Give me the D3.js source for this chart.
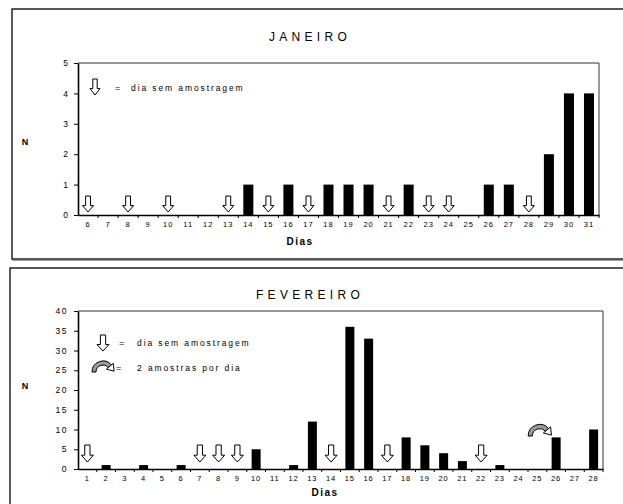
<!DOCTYPE html>
<html>
<head>
<meta charset="utf-8">
<script src="https://cdn.jsdelivr.net/npm/d3@7"></script>
<style>
  html, body { margin: 0; padding: 0; background: #fff; }
  svg { display: block; }
  text { font-family: "Liberation Sans", Arial, sans-serif; fill: #000; }
</style>
</head>
<body>
<svg id="chart" width="623" height="504"></svg>
<script>
// ---------- DATA ----------
const janDays = d3.range(6, 32).map(String);          // 6..31
const janValues = [0,0,0,0,0,0,0,0,1,0,1,0,1,1,1,0,1,0,0,0,1,1,0,2,4,4];
const janNoSample = ["6","8","10","13","15","17","21","23","24","28"];
const janYTicks = [0,1,2,3,4,5];

const febDays = d3.range(1, 29).map(String);          // 1..28
const febValues = [0,1,0,1,0,1,0,0,0,5,0,1,12,0,36,33,0,8,6,4,2,0,1,0,0,8,0,10];
const febNoSample = ["1","7","8","9","14","17","22"];
const febTwoSamples = ["26"];
const febYTicks = [0,5,10,15,20,25,30,35,40];

const titles = ["JANEIRO", "FEVEREIRO"];
const legendNoSample = "dia sem amostragem";
const legendTwoSamples = "2 amostras por dia";
const yTitle = "N";
const xTitle = "Dias";

// ---------- DRAW ----------
const svg = d3.select("#chart");

function downArrowPath(w, h) {
  const sw = w * 0.22, hw = w / 2, hh = h * 0.4;
  return `M${-sw},0 H${sw} V${h - hh} H${hw} L0,${h} L${-hw},${h - hh} H${-sw} Z`;
}

function drawCurvedArrow(g, cx, cy, s) {
  const ro = 11 * s, ri = 7 * s, a = 40 * Math.PI / 180;
  const p = (r, ang) => [r * Math.cos(ang), -r * Math.sin(ang)];
  const o1 = p(ro, Math.PI), o2 = p(ro, a), i2 = p(ri, a), i1 = p(ri, Math.PI);
  const band = `M${o1} A${ro},${ro} 0 0,1 ${o2} L${i2} A${ri},${ri} 0 0,0 ${i1} Z`;
  const b1 = p(13.5 * s, a), b2 = p(4.5 * s, a);
  const mid = p(9 * s, a);
  const dir = [Math.sin(a), Math.cos(a)];
  const tip = [mid[0] + dir[0] * 6.5 * s, mid[1] + dir[1] * 6.5 * s];
  const head = `M${b1} L${tip} L${b2} Z`;
  const grp = g.append("g").attr("transform", `translate(${cx},${cy})`);
  grp.append("path").attr("d", band).attr("fill", "#9a9a9a").attr("stroke", "#000").attr("stroke-width", 1);
  grp.append("path").attr("d", head).attr("fill", "#fff").attr("stroke", "#000").attr("stroke-width", 1);
}

function panel(cfg) {
  const g = svg.append("g");
  // outer frame with grey shadow
  g.append("rect").attr("x", cfg.frame[0] + 1).attr("y", cfg.frame[1] + 1.5)
    .attr("width", cfg.frame[2]).attr("height", cfg.frame[3])
    .attr("fill", "none").attr("stroke", "#999").attr("stroke-width", 1);
  g.append("rect").attr("x", cfg.frame[0]).attr("y", cfg.frame[1])
    .attr("width", cfg.frame[2]).attr("height", cfg.frame[3])
    .attr("fill", "#fff").attr("stroke", "#000").attr("stroke-width", 1.3);

  const x = d3.scaleBand().domain(cfg.days).range([cfg.left, cfg.right]).padding(0);
  const y = d3.scaleLinear().domain([0, cfg.yMax]).range([cfg.bottom, cfg.top]);
  const bw = x.bandwidth();

  // plot frame (top/right)
  g.append("path")
    .attr("d", `M${cfg.left},${cfg.top} H${cfg.right} V${cfg.bottom}`)
    .attr("fill", "none").attr("stroke", "#333").attr("stroke-width", 1);

  // bars
  g.selectAll("rect.bar").data(cfg.days.map((d, i) => ({ d, v: cfg.values[i] })).filter(o => o.v > 0))
    .join("rect").attr("class", "bar")
    .attr("x", o => x(o.d) + bw * (1 - cfg.barFrac) / 2)
    .attr("width", bw * cfg.barFrac)
    .attr("y", o => y(o.v))
    .attr("height", o => y(0) - y(o.v))
    .attr("fill", "#000");

  // y axis
  const ya = g.append("g").attr("transform", `translate(${cfg.left},0)`)
    .call(d3.axisLeft(y).tickValues(cfg.yTicks).tickFormat(d3.format("d"))
      .tickSize(4).tickSizeOuter(0).tickPadding(6));
  ya.select(".domain").attr("stroke", "#000").attr("stroke-width", 1.6);
  ya.selectAll("text").attr("font-size", 8.5).attr("letter-spacing", cfg.yLetter)
    .attr("font-family", "Liberation Sans, Arial, sans-serif");

  // x axis: labels at centres, ticks at boundaries
  const xa = g.append("g").attr("transform", `translate(0,${cfg.bottom})`)
    .call(d3.axisBottom(x).tickSize(0).tickPadding(7));
  xa.select(".domain").attr("stroke", "#000").attr("stroke-width", 1.6);
  xa.selectAll("text").attr("font-size", 7.5).attr("letter-spacing", 1)
    .attr("font-family", "Liberation Sans, Arial, sans-serif");
  g.selectAll("line.xt").data(cfg.days.slice(1).concat(["__end"]))
    .join("line").attr("class", "xt")
    .attr("x1", d => d === "__end" ? cfg.right : x(d))
    .attr("x2", d => d === "__end" ? cfg.right : x(d))
    .attr("y1", cfg.bottom).attr("y2", cfg.bottom + 3)
    .attr("stroke", "#000").attr("stroke-width", 1);

  // no-sample arrows
  g.selectAll("path.ns").data(cfg.noSample).join("path").attr("class", "ns")
    .attr("d", downArrowPath(cfg.arrowW, cfg.arrowH))
    .attr("transform", d => `translate(${x(d) + bw / 2},${cfg.bottom - cfg.arrowGap - cfg.arrowH})`)
    .attr("fill", "#fff").attr("stroke", "#000").attr("stroke-width", 1);

  // titles
  g.append("text").attr("x", cfg.titleX).attr("y", cfg.titleY)
    .attr("text-anchor", "middle").attr("font-size", 12).attr("letter-spacing", 4.3)
    .text(cfg.title);
  g.append("text").attr("x", 25).attr("y", cfg.nY).attr("text-anchor", "middle")
    .attr("font-size", 9).attr("font-weight", "bold").text(yTitle);
  g.append("text").attr("x", cfg.dX).attr("y", cfg.dY).attr("text-anchor", "middle")
    .attr("font-size", 10).attr("font-weight", "bold").attr("letter-spacing", 1.5).text(xTitle);

  // legend
  g.append("path").attr("d", downArrowPath(cfg.legArrow[2], cfg.legArrow[3]))
    .attr("transform", `translate(${cfg.legArrow[0]},${cfg.legArrow[1]})`)
    .attr("fill", "#fff").attr("stroke", "#000").attr("stroke-width", 1);
  g.append("text").attr("x", cfg.legEqX).attr("y", cfg.legY).attr("font-size", 9).text("=");
  g.append("text").attr("x", cfg.legTextX).attr("y", cfg.legY).attr("font-size", 8.5)
    .attr("letter-spacing", 1.9).text(legendNoSample);

  return { g, x, y, bw };
}

const jan = panel({
  frame: [12, 9, 630, 250],
  days: janDays, values: janValues, noSample: janNoSample, yTicks: janYTicks, yMax: 5,
  left: 78, right: 599, top: 63, bottom: 215, barFrac: 0.5, yLetter: 0,
  arrowW: 11, arrowH: 16, arrowGap: 3,
  title: titles[0], titleX: 310, titleY: 41, nY: 145, dX: 300, dY: 245,
  legArrow: [95, 79, 10, 16], legEqX: 115, legTextX: 131, legY: 91
});

const feb = panel({
  frame: [10, 268, 630, 260],
  days: febDays, values: febValues, noSample: febNoSample, yTicks: febYTicks, yMax: 40,
  left: 78, right: 603, top: 311, bottom: 469, barFrac: 0.48, yLetter: 1.5,
  arrowW: 12, arrowH: 17, arrowGap: 7,
  title: titles[1], titleX: 310, titleY: 299, nY: 389, dX: 325, dY: 496,
  legArrow: [103, 335, 12, 16], legEqX: 119, legTextX: 137, legY: 346
});

// two-samples legend + marker
drawCurvedArrow(feb.g, 103, 372, 1.0);
feb.g.append("text").attr("x", 116).attr("y", 371).attr("font-size", 9).text("=");
feb.g.append("text").attr("x", 137).attr("y", 371).attr("font-size", 8.5)
  .attr("letter-spacing", 1.9).text(legendTwoSamples);
febTwoSamples.forEach(d => {
  drawCurvedArrow(feb.g, feb.x(d) - 7, 436, 1.05);
});
</script>
</body>
</html>
